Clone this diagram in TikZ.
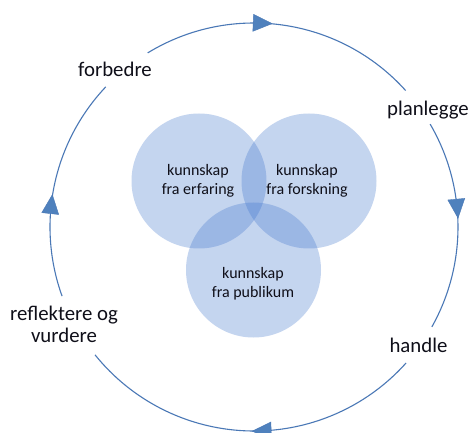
\documentclass[tikz,border=0pt]{standalone}
\usepackage{fontspec}
\setmainfont{Carlito}
\usetikzlibrary{calc}
\definecolor{arcblue}{RGB}{74,120,182}
\definecolor{tipblue}{RGB}{79,129,189}
\definecolor{venn}{RGB}{62,116,205}
\definecolor{txt}{RGB}{15,15,25}
\tikzset{
  cycleline/.style={draw=arcblue, line width=1.1pt},
  tipmark/.style={fill=tipblue, draw=arcblue, line width=0.4pt},
  vennset/.style={circle, fill=venn, fill opacity=0.30, draw=none, minimum size=135pt, inner sep=0pt},
  outerlabel/.style={font=\fontsize{20.8}{22}\selectfont, text=txt, inner sep=0pt, align=center},
  innerlabel/.style={font=\fontsize{16}{19}\selectfont, text=txt, inner sep=0pt, align=center, text opacity=1}
}
\begin{document}
\begin{tikzpicture}[x=1pt,y=1pt]
\useasboundingbox (0,0) rectangle (472,432);
\fill[white] (0,0) rectangle (472,432);
\coordinate (c) at (254,205);
% Venn circles
\node[vennset] (erf) at (199,251) {};
\node[vennset] (fors) at (309,251) {};
\node[vennset] (pub) at (253.5,162) {};
\node[innerlabel, anchor=base] (terf) at (198,237) {kunnskap\\fra erfaring};
\node[innerlabel, anchor=base] (tfors) at (307,237) {kunnskap\\fra forskning};
\node[innerlabel, anchor=base] (tpub) at (253,135) {kunnskap\\fra publikum};
% outer labels
\node[outerlabel, anchor=base] (forb) at (115,355) {forbedre};
\node[outerlabel, anchor=base] (plan) at (428,316) {planlegge};
\node[outerlabel, anchor=base] (hand) at (418.5,80) {handle};
\node[outerlabel, anchor=base] (refl) at (64,90) {reflektere og\\vurdere};
% arc end points
\coordinate (a1) at ($(c)+(121.4:204)$);
\coordinate (a2) at ($(c)+(30.3:204)$);
\coordinate (a3) at ($(c)+(-41.8:204)$);
\coordinate (a4) at ($(c)+(199.8:204)$);
% arcs
\draw[cycleline] (a1) arc[start angle=121.4, end angle=42, radius=204];
\draw[cycleline] (a2) arc[start angle=30.3, end angle=-29.3, radius=204];
\draw[cycleline] (a3) arc[start angle=-41.8, end angle=-141.2, radius=204];
\draw[cycleline] (a4) arc[start angle=199.8, end angle=136.6, radius=204];
% arrow heads
\coordinate (m1) at ($(c)+(87.7:204)$);
\coordinate (m2) at ($(c)+(5.3:204)$);
\coordinate (m3) at ($(c)+(-87.7:204)$);
\coordinate (m4) at ($(c)+(173.7:204)$);
\path[tipmark, shift={(m1)}, rotate=-2.3] (-9,-8.5) -- (10,0) -- (-9,8.5) -- cycle;
\path[tipmark, shift={(m2)}, rotate=-84.7] (-9,-8.5) -- (10,0) -- (-9,8.5) -- cycle;
\path[tipmark, shift={(m3)}, rotate=-177.7] (-9,-8.5) -- (10,0) -- (-9,8.5) -- cycle;
\path[tipmark, shift={(m4)}, rotate=83.7] (-9,-8.5) -- (10,0) -- (-9,8.5) -- cycle;
\end{tikzpicture}
\end{document}
